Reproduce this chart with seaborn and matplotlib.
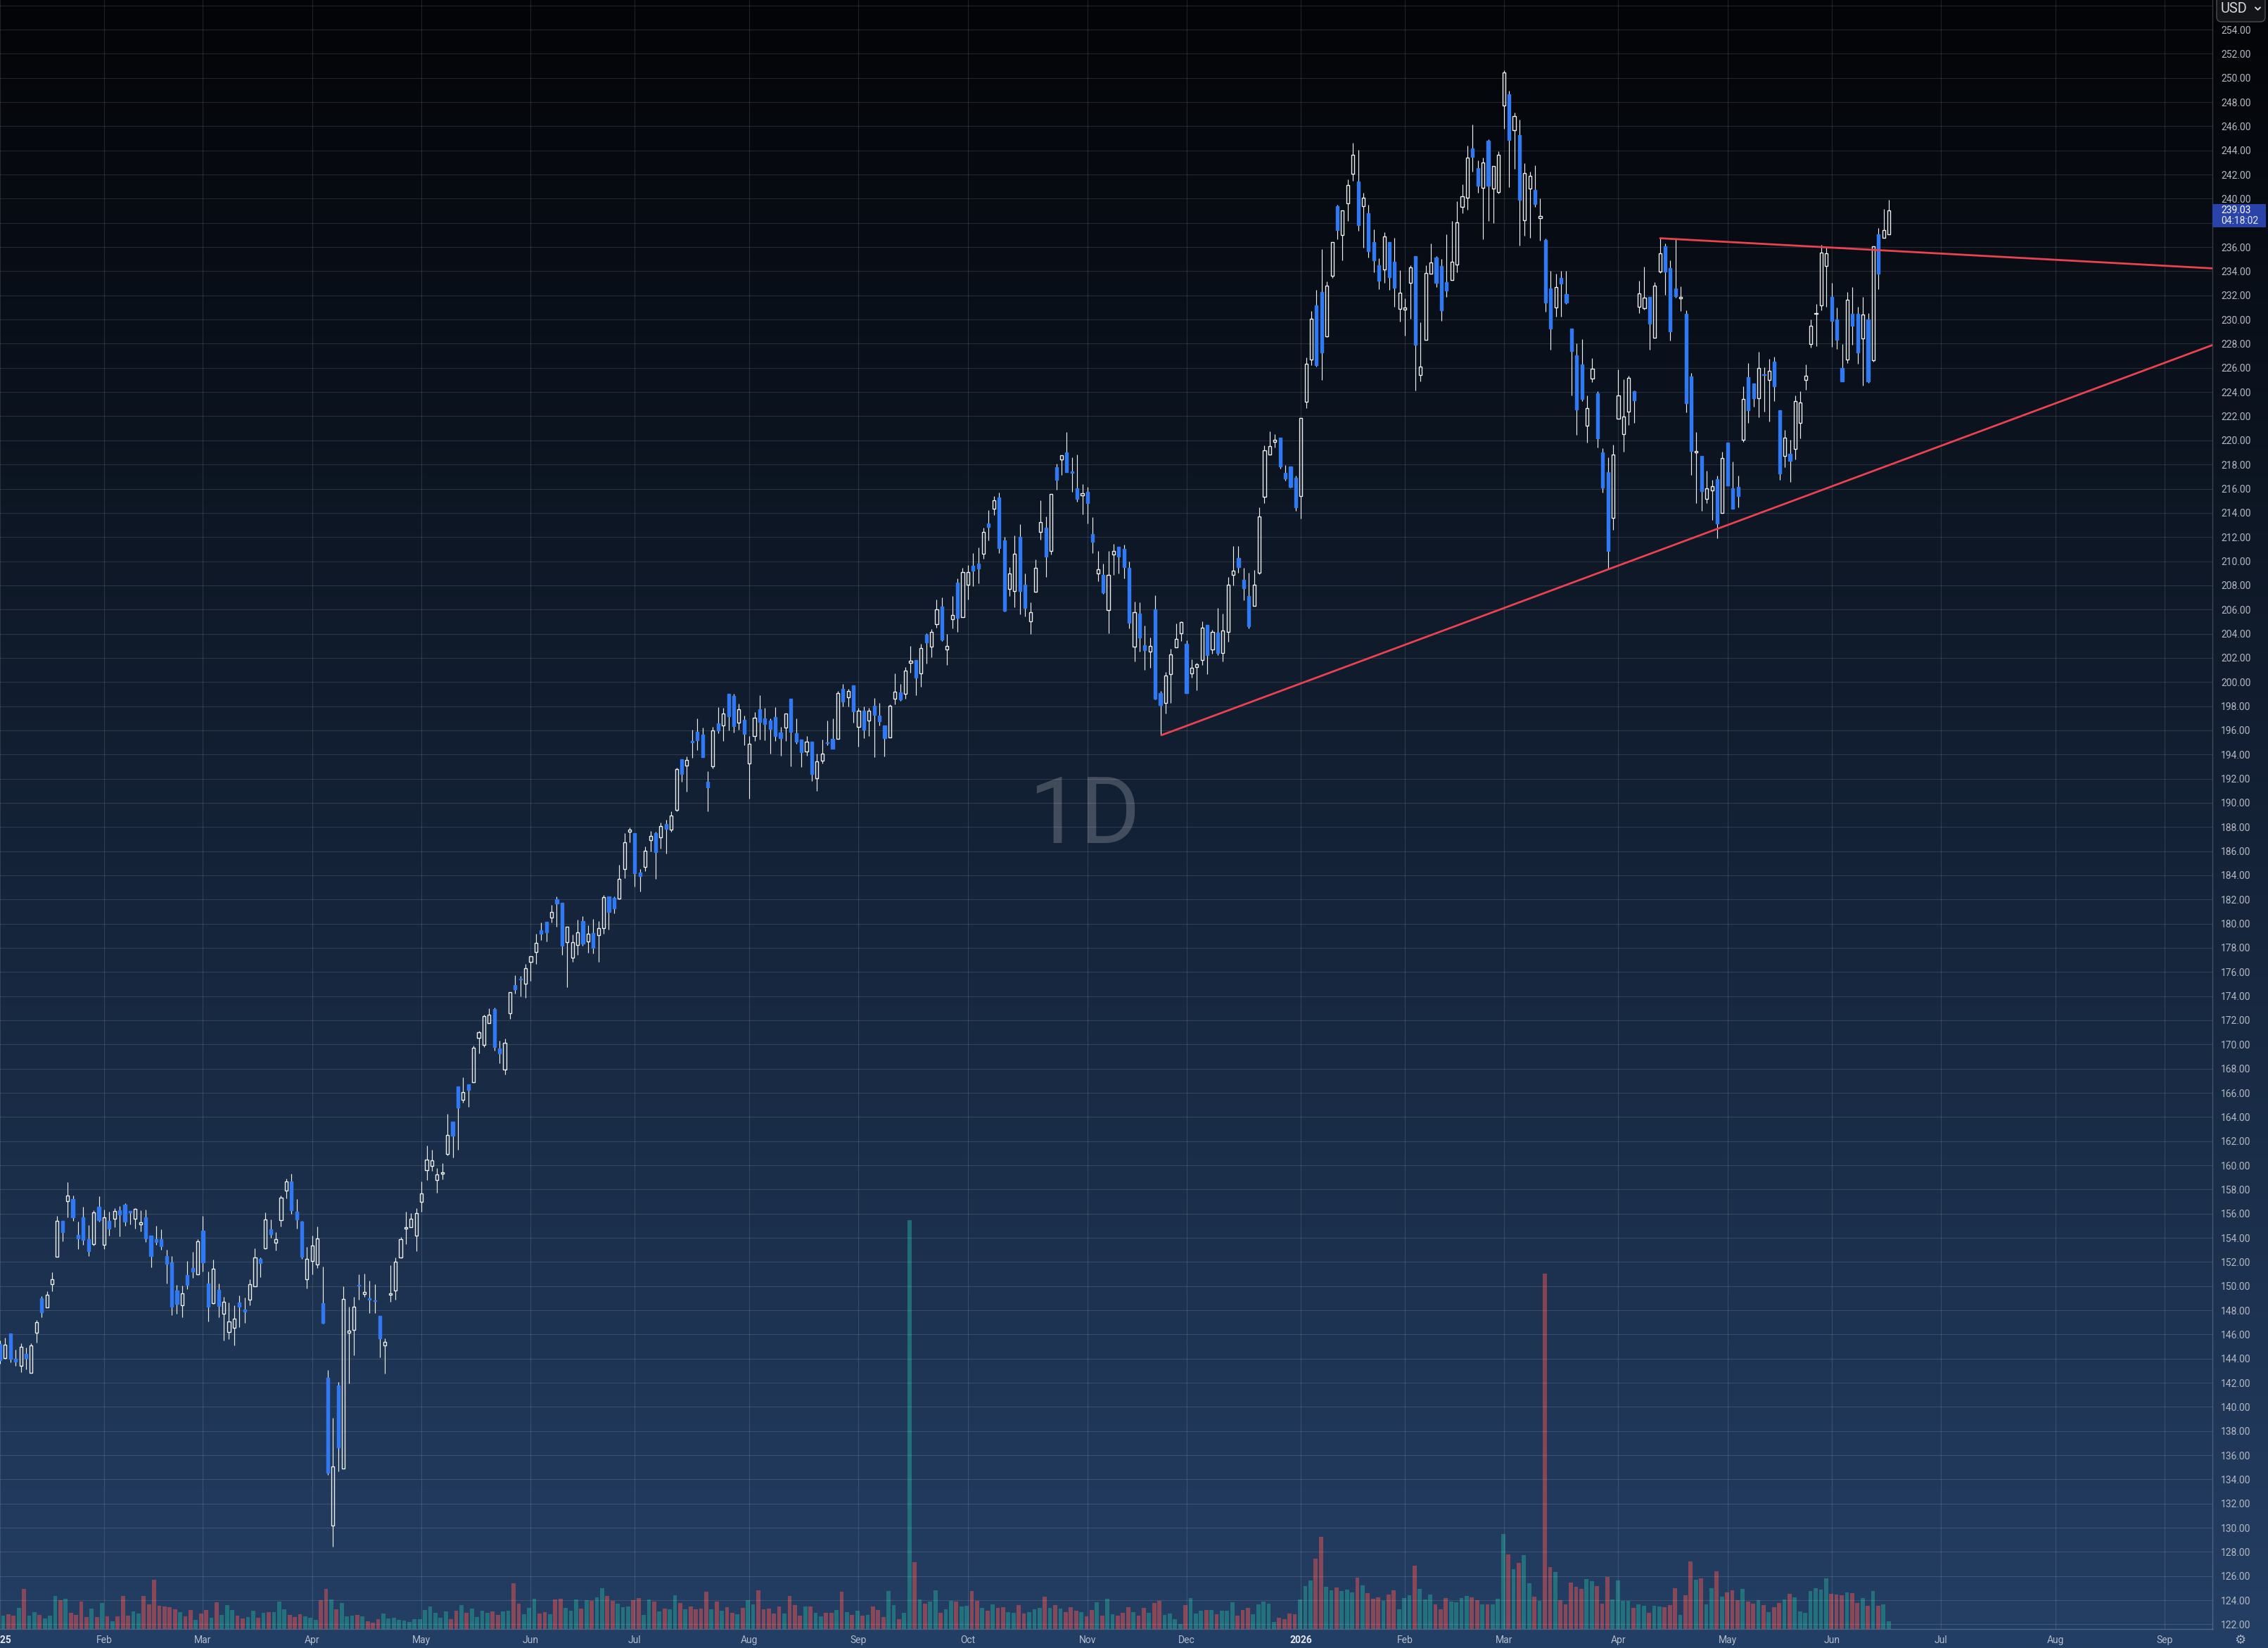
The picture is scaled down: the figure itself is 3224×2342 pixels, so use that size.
import numpy as np
import pandas as pd
import matplotlib
matplotlib.use("Agg")
import matplotlib.pyplot as plt
import matplotlib.transforms as mtransforms
from matplotlib.patches import Rectangle, FancyBboxPatch
import seaborn as sns

# ---------------- data (daily bars, Jan 2 2025 .. Jun 2026) ----------------
opens = [
145.19, 144.03, 146.08, 143.98, 143.40, 144.39, 142.82, 146.15, 149.00, 148.24,
150.16, 152.43, 155.42, 157.02, 157.20, 154.26, 155.67, 153.91, 153.46, 156.54,
153.42, 155.42, 155.58, 156.29, 156.76, 156.22, 155.58, 155.11, 155.67, 154.15,
153.91, 153.86, 152.48, 151.97, 149.65, 148.40, 150.94, 151.50, 150.96, 154.60,
150.23, 148.60, 149.71, 147.73, 146.21, 146.53, 148.67, 148.09, 148.87, 149.98,
152.28, 153.13, 154.73, 153.59, 155.47, 157.92, 158.66, 156.16, 155.33, 150.58,
152.10, 151.79, 148.60, 142.42, 130.18, 141.80, 134.89, 146.12, 146.35, 150.11,
149.36, 149.00, 148.82, 147.55, 145.10, 149.29, 149.65, 152.37, 154.78, 154.90,
154.15, 157.00, 159.62, 159.95, 158.76, 159.29, 160.96, 163.63, 166.54, 165.44,
166.72, 166.87, 170.53, 169.96, 171.74, 172.93, 169.69, 167.91, 172.58, 174.92,
175.43, 175.01, 176.83, 177.63, 179.44, 180.15, 180.51, 182.00, 181.73, 178.46,
177.18, 178.22, 180.24, 178.52, 179.20, 179.05, 179.65, 182.26, 182.12, 182.06,
184.55, 187.58, 187.52, 184.23, 184.70, 186.90, 187.47, 187.14, 188.24, 187.76,
189.42, 193.61, 193.07, 195.15, 195.90, 195.67, 191.77, 193.01, 196.60, 196.39,
199.05, 198.82, 196.62, 196.89, 193.26, 195.51, 197.77, 197.01, 196.83, 197.13,
195.84, 196.23, 198.64, 195.79, 195.26, 194.23, 195.09, 192.02, 193.49, 194.97,
195.30, 195.28, 199.44, 198.74, 199.75, 196.29, 197.65, 196.82, 198.06, 197.24,
196.43, 195.42, 198.62, 199.15, 199.01, 201.59, 201.79, 200.70, 203.94, 202.91,
204.80, 206.25, 202.70, 205.18, 208.23, 205.38, 208.06, 209.60, 209.77, 210.61,
213.10, 214.36, 215.26, 211.74, 207.71, 207.54, 211.99, 208.08, 205.03, 207.48,
212.44, 212.75, 210.86, 217.76, 218.44, 218.99, 217.41, 216.05, 215.47, 215.76,
212.26, 209.00, 208.88, 205.95, 210.57, 211.21, 211.04, 209.46, 202.93, 205.67,
203.05, 202.52, 206.03, 199.08, 198.27, 200.66, 202.84, 204.04, 203.17, 200.72,
201.21, 201.81, 204.73, 202.72, 204.09, 202.42, 204.16, 208.85, 210.29, 208.48,
207.14, 206.30, 209.02, 215.31, 218.80, 219.90, 220.20, 217.32, 217.86, 216.92,
215.38, 223.19, 226.67, 231.16, 232.26, 228.61, 233.64, 239.37, 237.02, 239.64,
242.08, 241.44, 239.40, 238.83, 236.42, 234.48, 234.14, 236.39, 234.81, 230.89,
230.82, 233.04, 235.24, 225.40, 228.31, 233.78, 235.15, 234.44, 233.10, 233.25,
234.53, 239.31, 240.11, 244.18, 242.55, 240.89, 244.81, 240.83, 240.53, 247.69,
248.67, 245.67, 245.28, 238.21, 240.83, 240.74, 238.42, 236.61, 232.59, 230.99,
233.46, 232.12, 229.27, 227.04, 226.29, 221.21, 225.13, 223.92, 219.01, 217.38,
213.58, 221.81, 220.53, 222.39, 224.06, 231.08, 230.94, 231.87, 228.51, 233.98,
236.04, 234.24, 232.59, 231.73, 230.50, 225.30, 218.98, 218.71, 215.16, 215.86,
216.81, 214.00, 219.80, 216.04, 216.12, 220.04, 225.26, 224.68, 223.49, 225.48,
225.02, 226.49, 222.47, 218.71, 218.90, 219.30, 221.47, 225.02, 227.99, 230.50,
231.20, 234.46, 231.87, 230.00, 226.00, 226.71, 230.46, 230.46, 228.45, 230.00,
226.63, 237.05, 236.79, 237.07,
]
highs = [
145.50, 145.72, 146.08, 144.74, 145.28, 144.94, 145.28, 147.19, 149.18, 149.58,
151.12, 155.80, 155.42, 158.62, 157.49, 155.36, 156.54, 155.07, 156.29, 157.41,
156.36, 156.18, 156.47, 156.60, 156.85, 156.22, 156.47, 156.29, 156.36, 154.15,
155.00, 154.73, 153.04, 152.46, 150.09, 150.05, 152.06, 152.86, 153.91, 155.82,
151.23, 152.21, 150.23, 149.13, 148.67, 148.42, 149.25, 149.07, 150.54, 153.15,
152.35, 156.11, 155.53, 154.44, 157.52, 158.92, 159.32, 157.23, 155.42, 153.26,
154.15, 154.95, 151.63, 143.07, 139.10, 142.09, 149.96, 148.31, 149.13, 150.99,
151.06, 150.47, 150.18, 147.55, 145.68, 151.72, 152.35, 154.08, 156.16, 156.05,
156.47, 158.67, 161.64, 161.28, 159.77, 160.18, 164.26, 163.63, 166.54, 167.29,
166.72, 169.93, 171.15, 172.49, 172.99, 173.05, 170.32, 170.50, 174.33, 175.73,
175.67, 176.68, 177.30, 179.17, 180.10, 180.15, 181.55, 182.26, 181.73, 179.74,
179.08, 180.33, 180.60, 179.89, 180.39, 180.24, 182.35, 182.26, 182.26, 184.88,
187.47, 187.97, 187.52, 184.52, 186.37, 187.67, 187.58, 188.39, 188.59, 189.28,
192.93, 193.61, 193.86, 196.04, 197.01, 196.25, 192.64, 196.31, 197.94, 197.83,
199.05, 199.05, 198.23, 197.24, 195.50, 197.53, 198.93, 197.88, 197.01, 197.94,
196.31, 197.40, 198.64, 197.01, 195.26, 195.50, 195.09, 194.10, 195.26, 196.83,
197.01, 199.28, 199.86, 199.44, 199.75, 197.83, 198.00, 197.88, 198.70, 198.29,
196.43, 198.17, 200.74, 199.86, 201.26, 203.01, 201.79, 203.13, 204.06, 204.41,
206.85, 207.03, 204.00, 207.09, 208.60, 209.44, 209.66, 210.65, 211.12, 212.75,
214.21, 215.37, 215.66, 212.03, 209.48, 212.11, 213.04, 208.96, 206.57, 210.12,
215.02, 213.68, 215.59, 218.05, 218.79, 220.68, 218.62, 218.85, 216.40, 216.17,
213.66, 210.82, 209.77, 210.82, 211.45, 211.21, 211.39, 209.99, 206.66, 206.61,
204.68, 203.71, 207.15, 199.28, 200.80, 202.78, 204.83, 205.03, 203.46, 201.90,
201.58, 205.00, 204.73, 204.33, 206.10, 205.66, 208.71, 211.23, 211.26, 209.45,
209.02, 209.28, 214.48, 219.60, 220.77, 220.51, 220.20, 217.93, 217.86, 217.06,
221.85, 226.87, 230.72, 232.47, 235.82, 233.14, 236.42, 239.50, 239.03, 241.58,
244.63, 244.06, 240.47, 239.50, 237.46, 235.05, 237.22, 236.39, 236.76, 234.11,
231.73, 234.48, 235.24, 229.80, 234.50, 236.31, 235.24, 235.03, 237.08, 238.18,
239.82, 241.21, 244.42, 246.12, 243.17, 243.41, 244.90, 242.73, 243.92, 250.60,
248.91, 247.16, 246.56, 242.91, 242.25, 242.79, 240.02, 236.73, 234.05, 233.81,
234.05, 234.05, 229.27, 228.05, 228.35, 223.71, 226.83, 224.07, 219.34, 218.57,
219.64, 225.88, 225.08, 225.34, 224.10, 233.23, 234.40, 231.87, 233.07, 236.71,
236.27, 234.92, 236.71, 232.77, 230.78, 225.60, 220.70, 218.71, 217.49, 216.71,
217.05, 219.06, 219.80, 218.27, 217.05, 224.46, 226.39, 224.68, 227.31, 226.04,
226.73, 226.91, 222.47, 220.84, 220.02, 223.69, 224.06, 226.27, 230.00, 231.31,
236.16, 236.00, 233.03, 230.98, 227.97, 232.27, 232.67, 231.04, 231.87, 230.56,
236.04, 237.59, 239.16, 239.90,
]
lows = [
143.60, 144.00, 143.67, 143.38, 142.89, 143.09, 142.82, 145.30, 147.40, 148.24,
149.56, 152.43, 153.71, 155.67, 155.40, 153.06, 153.42, 152.48, 153.35, 155.33,
153.06, 154.17, 154.86, 154.11, 154.98, 155.09, 154.78, 154.51, 153.64, 151.54,
153.42, 153.01, 150.20, 147.57, 147.71, 147.44, 149.74, 150.67, 150.96, 151.23,
147.06, 148.51, 147.40, 145.48, 145.59, 145.08, 146.62, 146.97, 148.44, 149.98,
150.76, 153.06, 154.02, 152.95, 154.93, 157.25, 155.98, 154.75, 152.23, 149.80,
150.96, 151.48, 146.88, 134.35, 128.42, 134.64, 134.89, 141.93, 144.25, 148.87,
149.09, 147.78, 147.78, 144.10, 142.74, 148.69, 148.87, 152.30, 153.46, 154.90,
152.87, 156.14, 158.76, 159.56, 157.72, 158.82, 160.84, 160.63, 161.31, 165.21,
164.82, 166.87, 169.25, 169.81, 171.74, 169.48, 168.45, 167.52, 172.10, 174.24,
174.00, 173.85, 175.25, 176.65, 178.61, 178.52, 180.07, 179.74, 177.39, 174.72,
176.83, 177.39, 178.16, 177.57, 177.51, 176.83, 179.14, 179.50, 180.84, 182.00,
183.75, 186.72, 183.04, 182.65, 184.34, 185.95, 183.69, 186.19, 185.83, 187.58,
189.28, 191.77, 190.91, 193.71, 194.39, 193.77, 189.32, 192.83, 195.79, 195.15,
195.98, 195.81, 196.04, 194.80, 190.37, 195.15, 195.26, 195.20, 194.10, 195.15,
193.92, 195.15, 193.05, 194.91, 192.99, 193.92, 191.83, 191.01, 193.28, 194.80,
194.47, 195.28, 198.00, 197.96, 196.62, 194.64, 195.34, 195.55, 193.77, 196.39,
193.83, 195.42, 198.14, 198.47, 198.60, 200.76, 198.89, 199.59, 201.51, 202.04,
204.47, 203.42, 201.40, 204.43, 204.14, 205.38, 206.82, 207.93, 208.16, 210.20,
211.72, 213.82, 210.67, 205.83, 207.11, 206.18, 205.60, 205.42, 203.96, 207.48,
211.78, 208.69, 210.53, 215.92, 217.14, 217.37, 215.76, 214.93, 213.88, 213.12,
210.67, 208.37, 207.28, 204.04, 208.86, 208.98, 208.57, 204.43, 201.71, 202.52,
200.98, 201.19, 198.56, 195.61, 197.37, 198.27, 202.84, 203.42, 199.08, 200.37,
199.30, 201.41, 200.64, 202.35, 202.25, 201.71, 203.35, 208.01, 209.05, 206.77,
204.46, 206.30, 208.95, 214.78, 218.80, 219.40, 217.66, 216.69, 216.08, 214.14,
213.50, 222.68, 226.23, 226.10, 224.99, 228.55, 233.47, 236.65, 234.91, 238.19,
241.51, 237.32, 235.92, 235.15, 233.91, 232.53, 233.04, 232.47, 231.03, 229.82,
228.68, 230.05, 224.10, 224.90, 228.31, 233.78, 232.71, 229.89, 231.88, 233.25,
233.93, 238.81, 239.07, 242.25, 240.50, 236.67, 238.18, 238.00, 240.44, 245.82,
240.97, 242.49, 236.10, 236.93, 236.75, 239.31, 236.52, 230.63, 227.48, 230.22,
230.22, 231.29, 223.71, 220.44, 223.26, 219.79, 224.84, 219.43, 215.66, 209.35,
212.57, 221.81, 219.04, 221.27, 221.43, 230.54, 230.82, 227.51, 228.51, 233.86,
232.05, 228.27, 231.83, 230.72, 222.31, 217.15, 214.80, 214.16, 214.80, 213.39,
211.89, 214.00, 216.25, 214.36, 214.44, 219.88, 221.43, 222.81, 221.91, 222.37,
221.57, 223.25, 216.75, 217.77, 216.57, 218.39, 220.16, 224.18, 227.69, 227.81,
230.76, 231.06, 227.71, 227.57, 224.88, 226.41, 227.89, 226.35, 224.54, 224.78,
226.51, 232.53, 236.79, 237.07,
]
closes = [
143.85, 145.14, 143.96, 143.78, 144.97, 144.03, 145.10, 147.02, 147.82, 149.29,
150.56, 155.40, 154.46, 157.48, 155.69, 153.93, 153.82, 152.88, 156.09, 155.44,
155.69, 154.75, 156.22, 155.91, 155.33, 156.09, 156.40, 155.29, 153.93, 152.48,
153.64, 153.31, 151.83, 148.29, 148.51, 149.40, 150.09, 151.19, 153.73, 151.94,
148.29, 151.43, 148.33, 148.71, 147.06, 147.31, 148.31, 147.86, 150.14, 152.37,
151.90, 155.51, 154.29, 153.88, 157.30, 158.66, 156.27, 155.51, 152.41, 152.26,
153.37, 153.95, 146.95, 134.53, 135.07, 136.63, 148.96, 146.32, 148.29, 150.07,
149.51, 148.87, 148.76, 145.66, 145.39, 149.40, 152.03, 153.88, 154.89, 155.55,
156.02, 157.66, 160.45, 160.39, 159.23, 159.41, 162.53, 162.44, 164.76, 166.04,
166.22, 169.75, 171.03, 172.34, 172.46, 169.78, 169.25, 170.14, 174.33, 174.54,
175.37, 176.32, 177.30, 178.40, 179.14, 179.26, 180.96, 181.64, 178.16, 179.74,
178.49, 179.26, 178.34, 179.14, 177.98, 179.62, 182.18, 180.96, 181.26, 183.69,
186.72, 187.76, 184.17, 183.93, 186.01, 187.26, 185.89, 188.09, 187.82, 188.92,
192.80, 192.37, 193.55, 194.99, 195.20, 193.77, 191.30, 196.00, 195.98, 197.40,
197.15, 196.33, 197.75, 195.69, 194.91, 197.07, 196.68, 196.49, 196.10, 195.55,
195.38, 197.40, 195.90, 195.09, 194.21, 195.07, 192.37, 193.44, 194.08, 194.93,
194.47, 199.09, 198.37, 199.28, 197.55, 197.65, 196.04, 197.65, 197.26, 196.74,
195.34, 198.04, 199.20, 198.54, 200.95, 201.77, 200.35, 202.82, 203.26, 204.16,
206.02, 203.48, 202.99, 205.55, 205.32, 209.11, 209.11, 209.21, 209.39, 212.44,
212.83, 215.06, 211.08, 205.89, 208.99, 210.63, 207.52, 206.12, 205.79, 209.46,
213.25, 210.38, 215.59, 216.73, 218.79, 217.37, 217.32, 215.16, 215.63, 214.81,
211.60, 209.33, 207.40, 208.88, 210.84, 210.38, 209.50, 204.89, 205.79, 203.67,
202.64, 202.97, 198.60, 198.07, 200.55, 202.29, 203.58, 204.97, 199.08, 201.19,
201.45, 204.49, 202.25, 204.16, 202.42, 204.26, 208.04, 209.22, 209.48, 207.78,
204.59, 208.04, 213.71, 219.20, 219.50, 220.07, 217.86, 216.82, 216.15, 214.48,
221.85, 226.34, 230.05, 226.23, 227.27, 232.83, 236.42, 237.39, 239.03, 241.11,
243.62, 237.79, 240.10, 235.68, 234.91, 233.20, 236.89, 233.51, 232.63, 232.23,
230.99, 234.34, 227.90, 226.09, 233.84, 234.70, 233.04, 230.78, 232.42, 234.79,
238.06, 240.20, 243.41, 243.47, 241.09, 243.00, 241.09, 242.73, 243.65, 250.45,
244.84, 246.86, 239.90, 242.13, 241.90, 239.58, 238.57, 231.38, 229.24, 232.71,
232.95, 231.41, 227.36, 222.58, 223.41, 222.67, 225.94, 220.14, 216.07, 210.84,
218.81, 223.71, 221.96, 225.20, 223.31, 232.19, 231.79, 229.66, 232.83, 235.46,
233.98, 229.02, 231.95, 231.85, 223.09, 219.12, 219.14, 215.78, 216.04, 216.20,
213.11, 218.55, 216.25, 214.36, 215.38, 223.45, 222.47, 223.47, 226.00, 225.40,
225.74, 224.48, 217.27, 220.24, 218.29, 223.27, 223.15, 225.34, 229.50, 230.54,
235.56, 235.46, 229.90, 228.31, 224.88, 231.61, 229.46, 227.27, 230.44, 224.88,
236.04, 233.80, 237.43, 239.03,
]
volumes = [  # millions of shares
2.00, 1.93, 2.10, 1.90, 3.03, 5.70, 1.90, 2.43, 2.03, 1.53,
1.90, 4.70, 4.10, 4.33, 2.33, 2.03, 3.93, 1.73, 2.93, 1.73,
3.73, 1.83, 1.13, 1.83, 4.70, 1.93, 2.53, 2.23, 4.70, 3.53,
7.03, 3.33, 3.23, 3.13, 2.83, 2.43, 1.83, 2.73, 1.33, 2.23,
2.73, 1.63, 3.83, 2.03, 3.43, 2.73, 1.93, 1.53, 1.73, 2.63,
1.63, 2.33, 2.43, 2.43, 3.93, 2.83, 2.03, 1.73, 2.13, 1.83,
1.63, 1.33, 4.13, 5.73, 4.23, 2.83, 3.73, 1.83, 1.93, 2.03,
1.83, 1.13, 0.93, 1.43, 2.23, 1.53, 1.63, 1.33, 1.23, 1.03,
1.43, 1.43, 2.73, 3.23, 2.33, 1.63, 2.53, 1.43, 2.63, 3.43,
2.33, 2.93, 1.73, 2.63, 2.33, 2.53, 2.03, 2.53, 2.63, 6.53,
3.63, 2.13, 3.03, 4.33, 2.23, 2.43, 2.13, 4.23, 4.33, 3.03,
2.63, 4.23, 2.93, 4.13, 4.03, 4.53, 5.83, 4.73, 4.03, 3.63,
3.13, 3.23, 4.13, 4.43, 2.03, 4.23, 3.93, 2.53, 2.93, 2.83,
4.83, 3.73, 2.83, 3.23, 2.83, 2.93, 5.30, 2.80, 3.90, 2.60,
3.10, 2.30, 2.10, 3.00, 4.10, 3.50, 5.50, 2.80, 2.90, 2.20,
3.20, 2.20, 4.70, 3.40, 1.90, 3.20, 3.20, 2.30, 1.80, 2.30,
2.30, 2.70, 5.30, 2.40, 2.00, 2.60, 1.90, 2.00, 3.20, 2.70,
1.70, 5.40, 3.40, 1.40, 2.30, 58.10, 9.50, 4.20, 3.60, 3.90,
5.50, 2.30, 2.80, 4.00, 3.90, 3.20, 3.30, 5.40, 4.00, 3.00,
2.60, 3.50, 3.00, 3.10, 2.40, 2.30, 3.40, 2.20, 2.40, 2.80,
3.00, 4.60, 3.00, 3.40, 2.90, 2.40, 3.10, 2.60, 2.40, 1.80,
2.70, 3.80, 1.90, 4.30, 2.10, 1.90, 2.30, 3.10, 2.40, 1.90,
3.00, 2.30, 3.70, 4.00, 2.00, 2.20, 1.40, 0.70, 3.40, 4.40,
2.20, 2.60, 2.70, 2.70, 2.10, 2.60, 2.60, 3.80, 1.90, 2.70,
3.00, 2.10, 3.50, 3.90, 3.60, 1.00, 1.60, 1.40, 2.20, 2.10,
4.20, 6.10, 6.90, 10.00, 13.10, 6.00, 5.50, 5.90, 5.40, 5.60,
5.20, 7.30, 6.20, 5.10, 4.30, 4.50, 4.00, 4.90, 5.50, 2.80,
4.40, 4.80, 9.00, 5.70, 4.20, 4.90, 3.50, 2.80, 4.40, 3.90,
3.80, 4.40, 4.70, 4.50, 4.10, 3.50, 3.50, 3.50, 4.30, 13.50,
10.60, 8.50, 9.40, 10.50, 6.50, 4.60, 4.00, 50.50, 8.80, 8.10,
4.10, 3.50, 6.60, 6.00, 5.70, 7.10, 6.80, 6.10, 3.60, 7.40,
4.20, 6.90, 4.00, 4.00, 3.00, 3.50, 3.30, 2.30, 3.30, 3.20,
3.10, 3.40, 5.80, 2.00, 4.80, 9.60, 7.00, 7.20, 3.50, 5.80,
8.20, 4.60, 5.20, 5.50, 4.10, 5.70, 3.90, 3.60, 4.10, 3.40,
2.40, 3.10, 3.70, 4.20, 5.00, 4.50, 2.50, 2.30, 5.40, 5.80,
5.60, 7.20, 5.00, 4.90, 4.80, 5.20, 5.10, 3.70, 4.40, 3.30,
5.40, 3.30, 3.50, 1.10,
]

# month-start bar indices and their axis labels
month_ticks = [0, 20, 39, 60, 81, 102, 122, 144, 165, 186, 209, 228,
               250, 270, 289, 311, 332, 352, 373, 395, 416]
month_labels = ["2025", "Feb", "Mar", "Apr", "May", "Jun", "Jul", "Aug", "Sep",
                "Oct", "Nov", "Dec", "2026", "Feb", "Mar", "Apr", "May", "Jun",
                "Jul", "Aug", "Sep"]

# user-drawn trend lines (bar index, price) anchors
support_x = [223.2, 365.07]
support_y = [195.6, 218.28]
resist_x = [319.05, 365.07]
resist_y = [236.73, 235.65]

price_ticks = list(range(122, 257, 2))
last_time = "04:18:02"

# ---------------- figure ----------------
o = np.array(opens); h = np.array(highs); l = np.array(lows); c = np.array(closes)
v = np.array(volumes)
n = len(o)
assert len(h) == n and len(l) == n and len(c) == n and len(v) == n, (n, len(h), len(l), len(c), len(v))
x = np.arange(n)

sns.set_theme(style="dark")
plt.rcParams['font.family'] = ['Roboto', 'DejaVu Sans']

W, H, DPI = 3224, 2342, 200
fig = plt.figure(figsize=(W / DPI, H / DPI), dpi=DPI)
fig.patch.set_facecolor('#233f65')

# background gradient
bg = fig.add_axes([0, 0, 1, 1], zorder=0)
top = np.array([3, 4, 7]) / 255.0
bot = np.array([36, 63, 101]) / 255.0
t = np.linspace(0, 1, 600)[:, None]
grad = (top + (bot - top) * t)[:, None, :]
bg.imshow(grad, aspect='auto', extent=[0, 1, 0, 1], origin='upper', interpolation='bilinear')
bg.set_axis_off()

plot_w, plot_h = 3145, 2315
pos = [0, (H - plot_h) / H, plot_w / W, plot_h / H]
xlim = (3 / 7.404, (plot_w + 3) / 7.404)
ylim = (121.62, 256.45)

# volume (overlay, bottom)
axv = fig.add_axes(pos, zorder=1)
axv.set_facecolor('none')
vdf = pd.DataFrame({'bar': x, 'vol': v, 'dir': np.where(c >= o, 'up', 'down')})
sns.barplot(data=vdf, x='bar', y='vol', hue='dir', native_scale=True, dodge=False,
            errorbar=None, saturation=1, width=0.78, alpha=0.5, linewidth=0,
            palette={'up': '#26a69a', 'down': '#ef5350'}, legend=False, ax=axv)
axv.set_xlim(*xlim)
axv.set_ylim(0, plot_h / 10.0)
axv.set_axis_off()

# price axes
ax = fig.add_axes(pos, zorder=2)
ax.set_facecolor('none')
ax.set_xlim(*xlim)
ax.set_ylim(*ylim)

last = c[-1]
tag_lo, tag_hi = last - 1.37, last + 0.55
ax.set_yticks(price_ticks)
# labels hidden by the price tag / currency button are left blank
ax.set_yticklabels(["" if (tag_lo <= p <= tag_hi or p >= 256) else f"{p:.2f}" for p in price_ticks])
ax.set_xticks(month_ticks)
ax.set_xticklabels(month_labels)
ax.yaxis.tick_right()
ax.grid(True, color='white', alpha=0.12, linewidth=0.4)
ax.set_axisbelow(True)
ax.tick_params(axis='y', length=0, pad=4.3, labelsize=5, labelcolor='#b4b8c2')
ax.tick_params(axis='x', length=0, pad=3.2, labelsize=5, labelcolor='#b4bccb')
for lab in ax.get_xticklabels():
    if lab.get_text().isdigit():
        lab.set_fontweight('bold')
        lab.set_color('#e3e7ef')
for side in ['left', 'top']:
    ax.spines[side].set_visible(False)
for side in ['right', 'bottom']:
    ax.spines[side].set_color((1, 1, 1, 0.2))
    ax.spines[side].set_linewidth(0.5)

# watermark
ax.text(1542 / plot_w, 1 - 1198 / plot_h, "1D", transform=ax.transAxes, ha='center',
        va='baseline', fontsize=47, color='white', alpha=0.2, zorder=1)

# candles
up = c >= o
b_lo = np.minimum(o, c)
b_hi = np.maximum(o, c)
b_h = np.maximum(b_hi - b_lo, 0.05)
wick = '#f0f0f0'
blue = '#3179f2'
ax.vlines(x, l, b_lo, color=wick, linewidth=0.42, zorder=3)
ax.vlines(x, b_hi, h, color=wick, linewidth=0.42, zorder=3)
ax.bar(x[up], b_h[up], bottom=b_lo[up], width=0.56, facecolor='none',
       edgecolor=wick, linewidth=0.5, zorder=4)
ax.bar(x[~up], b_h[~up], bottom=b_lo[~up], width=0.56, facecolor=blue,
       edgecolor=blue, linewidth=0.5, zorder=4)

# trend lines (extended to the right edge)
def extended(xs, ys, xr):
    k = (ys[1] - ys[0]) / (xs[1] - xs[0])
    return [xs[0], xr], [ys[0], ys[0] + k * (xr - xs[0])]

for xs, ys in [(support_x, support_y), (resist_x, resist_y)]:
    lx, ly = extended(xs, ys, xlim[1] + 2)
    ax.plot(lx, ly, color='#e8434f', linewidth=1.0, solid_capstyle='round', zorder=5)

# last price tag
trans = mtransforms.blended_transform_factory(ax.transAxes, ax.transData)
ax.add_patch(Rectangle((1.0, tag_lo), (3221 - plot_w) / plot_w, tag_hi - tag_lo, transform=trans,
                       clip_on=False, facecolor='#2a43a8', edgecolor='none', zorder=10))
ax.text(1.0038, last, f"{last:.2f}", transform=trans, ha='left', va='center',
        fontsize=5, color='white', zorder=11, clip_on=False)
ax.text(1.0038, last - 0.88, last_time, transform=trans, ha='left', va='center',
        fontsize=5, color='#e8ecf5', zorder=11, clip_on=False)

# UI overlay: currency button and settings glyph
ui = fig.add_axes([0, 0, 1, 1], zorder=5)
ui.set_xlim(0, W)
ui.set_ylim(H, 0)
ui.set_axis_off()
ui.add_patch(FancyBboxPatch((3151, -12), 69, 43, boxstyle='round,pad=0,rounding_size=7',
                            facecolor='#141518', edgecolor='#4a4d55', linewidth=0.5))
ui.text(3157, 13, "USD", fontsize=7.2, color='#d6d9e0', ha='left', va='center')
ui.plot([3206, 3209.5, 3213], [10.5, 14, 10.5], color='#d6d9e0', linewidth=0.7)
ui.text(3184, 2331, "\u2699", fontsize=6.5, color='#aab3c2', ha='center', va='center',
        family='DejaVu Sans')

fig.savefig('out.png', dpi=DPI)
